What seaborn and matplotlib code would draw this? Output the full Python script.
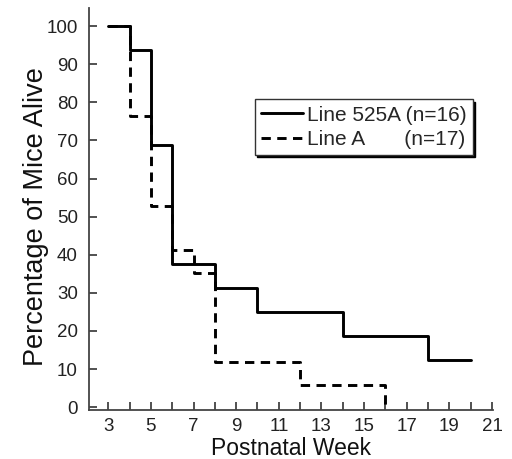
import matplotlib
matplotlib.use("Agg")
import matplotlib.pyplot as plt
import seaborn as sns
import pandas as pd
from matplotlib.lines import Line2D

weeks_525a = [3, 4, 5, 6, 8, 10, 14, 18, 20]
alive_525a = [100, 93.75, 68.75, 37.5, 31.25, 25, 18.75, 12.5, 12.5]
weeks_a = [3, 4, 5, 6, 7, 8, 12, 16]
alive_a = [100, 76.5, 52.9, 41.2, 35.3, 11.8, 5.9, 0]
labels = ["Line 525A (n=16)", "Line A       (n=17)"]
xticks = list(range(3, 22, 2))
yticks = list(range(0, 101, 10))

df = pd.concat([
    pd.DataFrame({"week": weeks_525a, "alive": alive_525a, "line": labels[0]}),
    pd.DataFrame({"week": weeks_a, "alive": alive_a, "line": labels[1]}),
])

sns.set_style("ticks")
plt.rcParams["font.family"] = ["Liberation Sans", "DejaVu Sans"]

fig = plt.figure(figsize=(5.12, 4.59), dpi=100)
ax = fig.add_axes([0.174, 0.107, 0.789, 0.876])

LW = 2.1
DASH = (3.2, 2.2)
sns.lineplot(data=df, x="week", y="alive", style="line", hue="line",
             palette={labels[0]: "black", labels[1]: "black"},
             dashes={labels[0]: "", labels[1]: DASH},
             drawstyle="steps-post", linewidth=LW, ax=ax, legend=False)

ax.set_xlim(2.1, 21.05)
ax.set_ylim(-0.7, 104.8)
ax.set_xticks(xticks)
ax.set_xticks(range(3, 22), minor=True)
ax.set_yticks(yticks)
ax.tick_params(direction="in", length=6, width=1.1, labelsize=13.5, colors="#222222")
ax.tick_params(axis="y", pad=8)
ax.tick_params(axis="x", pad=6)
ax.tick_params(which="minor", direction="in", length=6, width=1.1, colors="#222222")
for s in ["top", "right"]:
    ax.spines[s].set_visible(False)
for s in ["left", "bottom"]:
    ax.spines[s].set_color("#444444")
    ax.spines[s].set_linewidth(1.3)
ax.set_xlabel("Postnatal Week", fontsize=16.5, labelpad=1.5, color="#111111")
ax.set_ylabel("Percentage of Mice Alive", fontsize=19.5, labelpad=-2, color="#111111")
ax.yaxis.label.set_y(0.48)

h = [Line2D([], [], color="black", lw=LW),
     Line2D([], [], color="black", lw=LW, dashes=DASH)]
leg = ax.legend(h, labels, loc="upper left", bbox_to_anchor=(0.411, 0.772),
                fontsize=15, frameon=True, fancybox=False, handlelength=2.0,
                handletextpad=0.2, borderpad=0.3, labelspacing=0.25,
                borderaxespad=0,
                shadow={"color": "black", "alpha": 1, "ox": 1.5, "oy": -1.5})
leg.get_frame().set_edgecolor("#333333")
leg.get_frame().set_linewidth(1.0)

fig.savefig("out.png", dpi=100)
